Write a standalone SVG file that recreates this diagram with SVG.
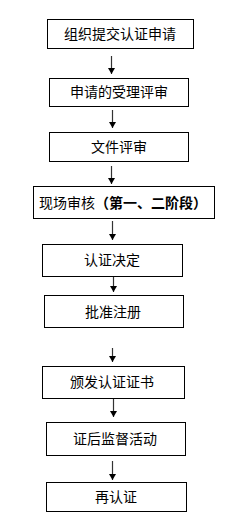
<svg xmlns="http://www.w3.org/2000/svg" width="241" height="524" viewBox="0 0 241 524">
<defs>
<marker id="ah" markerWidth="8" markerHeight="8" refX="6" refY="4" orient="auto" markerUnits="userSpaceOnUse">
<path d="M0,0.5 L6,4 L0,7.5 Z" fill="#000"/>
</marker>
<style>
.box{fill:#fff;stroke:#000;stroke-width:1}
.t{font-family:"Noto Sans CJK SC","Liberation Sans",sans-serif;font-size:14px;fill:#000;text-anchor:middle}
.b{font-weight:bold}
.c{stroke:#333;stroke-width:1.2;fill:none;marker-end:url(#ah)}
</style>
</defs>
<rect width="241" height="524" fill="#fff"/>
<g id="connectors">
<line class="c" x1="111.5" y1="56" x2="111.5" y2="74"/>
<line class="c" x1="112.5" y1="110" x2="112.5" y2="128"/>
<line class="c" x1="111.5" y1="166" x2="111.5" y2="184"/>
<line class="c" x1="112.5" y1="221" x2="112.5" y2="240"/>
<line class="c" x1="113.5" y1="274" x2="113.5" y2="292"/>
<line class="c" x1="112.5" y1="348" x2="112.5" y2="362"/>
<line class="c" x1="113.5" y1="399" x2="113.5" y2="417"/>
<line class="c" x1="112.5" y1="461" x2="112.5" y2="480"/>
</g>
<g id="n1"><rect class="box" x="47.5" y="19.5" width="146" height="29"/><text class="t" x="120" y="39">组织提交认证申请</text></g>
<g id="n2"><rect class="box" x="49.5" y="78.5" width="139" height="28"/><text class="t" x="119" y="97">申请的受理评审</text></g>
<g id="n3"><rect class="box" x="49.5" y="132.5" width="139" height="29"/><text class="t" x="119" y="152">文件评审</text></g>
<g id="n4"><rect class="box" x="33.5" y="186.5" width="181" height="32"/><text class="t" x="123" y="208">现场审核<tspan class="b">（第一、二阶段）</tspan></text></g>
<g id="n5"><rect class="box" x="42.5" y="244.5" width="140" height="32"/><text class="t" x="112" y="265">认证决定</text></g>
<g id="n6"><rect class="box" x="44.5" y="295.5" width="139" height="32"/><text class="t" x="113" y="317">批准注册</text></g>
<g id="n7"><rect class="box" x="42.5" y="366.5" width="142" height="32"/><text class="t" x="112" y="387">颁发认证证书</text></g>
<g id="n8"><rect class="box" x="46.5" y="422.5" width="139" height="33"/><text class="t" x="115" y="444">证后监督活动</text></g>
<g id="n9"><rect class="box" x="46.5" y="482.5" width="140" height="29"/><text class="t" x="116" y="502">再认证</text></g>
</svg>
